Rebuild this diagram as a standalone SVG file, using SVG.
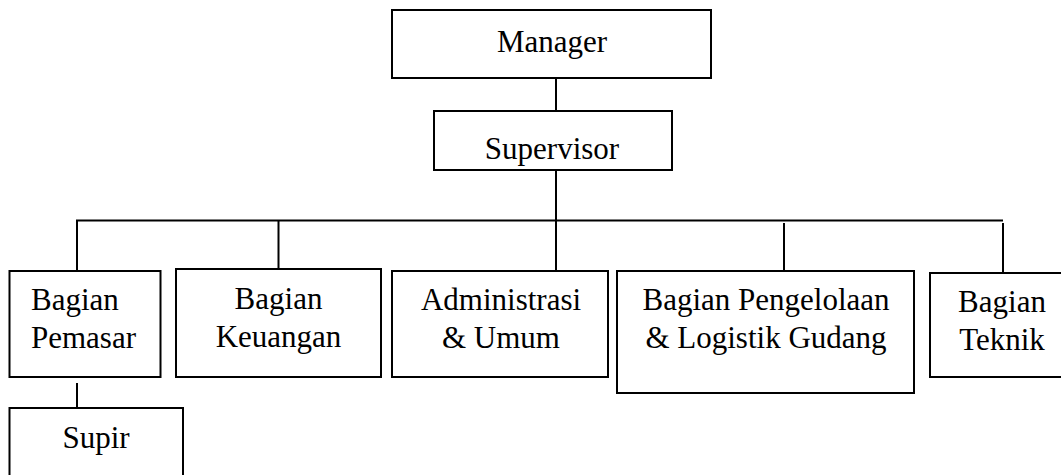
<svg xmlns="http://www.w3.org/2000/svg" width="1061" height="475" viewBox="0 0 1061 475">
<style>
rect{fill:#fff;stroke:#000;stroke-width:2}
line{stroke:#000;stroke-width:2}
text{font-family:"Liberation Serif","Times New Roman",serif;font-size:31px;fill:#000}
.c{text-anchor:middle}
</style>
<rect x="0" y="0" width="1061" height="475" style="stroke:none"/>
<g id="connectors">
<line x1="556" y1="78" x2="556" y2="111"/>
<line x1="556" y1="170" x2="556" y2="271"/>
<line x1="76" y1="220.5" x2="1003" y2="220.5"/>
<line x1="77" y1="220" x2="77" y2="271"/>
<line x1="278.5" y1="220" x2="278.5" y2="269"/>
<line x1="784" y1="223" x2="784" y2="271"/>
<line x1="1003" y1="223" x2="1003" y2="273"/>
<line x1="77" y1="383" x2="77" y2="408"/>
</g>
<g id="manager"><rect x="392" y="10" width="319" height="68"/><text class="c" x="552" y="52">Manager</text></g>
<g id="supervisor"><rect x="434" y="111" width="238" height="59"/><text class="c" x="552" y="159">Supervisor</text></g>
<g id="pemasar"><rect x="9.5" y="271" width="151" height="106"/><text x="31" y="310">Bagian</text><text x="31" y="348">Pemasar</text></g>
<g id="keuangan"><rect x="176" y="269" width="205" height="108"/><text class="c" x="278.5" y="309">Bagian</text><text class="c" x="278.5" y="347">Keuangan</text></g>
<g id="administrasi"><rect x="392" y="271" width="216" height="106"/><text class="c" x="501" y="310">Administrasi</text><text class="c" x="501" y="348">&amp; Umum</text></g>
<g id="pengelolaan"><rect x="617" y="271" width="297" height="122"/><text class="c" x="766" y="310">Bagian Pengelolaan</text><text class="c" x="766" y="348">&amp; Logistik Gudang</text></g>
<g id="teknik"><rect x="930" y="273" width="145" height="104"/><text class="c" x="1002" y="312">Bagian</text><text class="c" x="1002" y="350">Teknik</text></g>
<g id="supir"><rect x="9.5" y="408" width="173.5" height="80"/><text class="c" x="96" y="448">Supir</text></g>
</svg>
